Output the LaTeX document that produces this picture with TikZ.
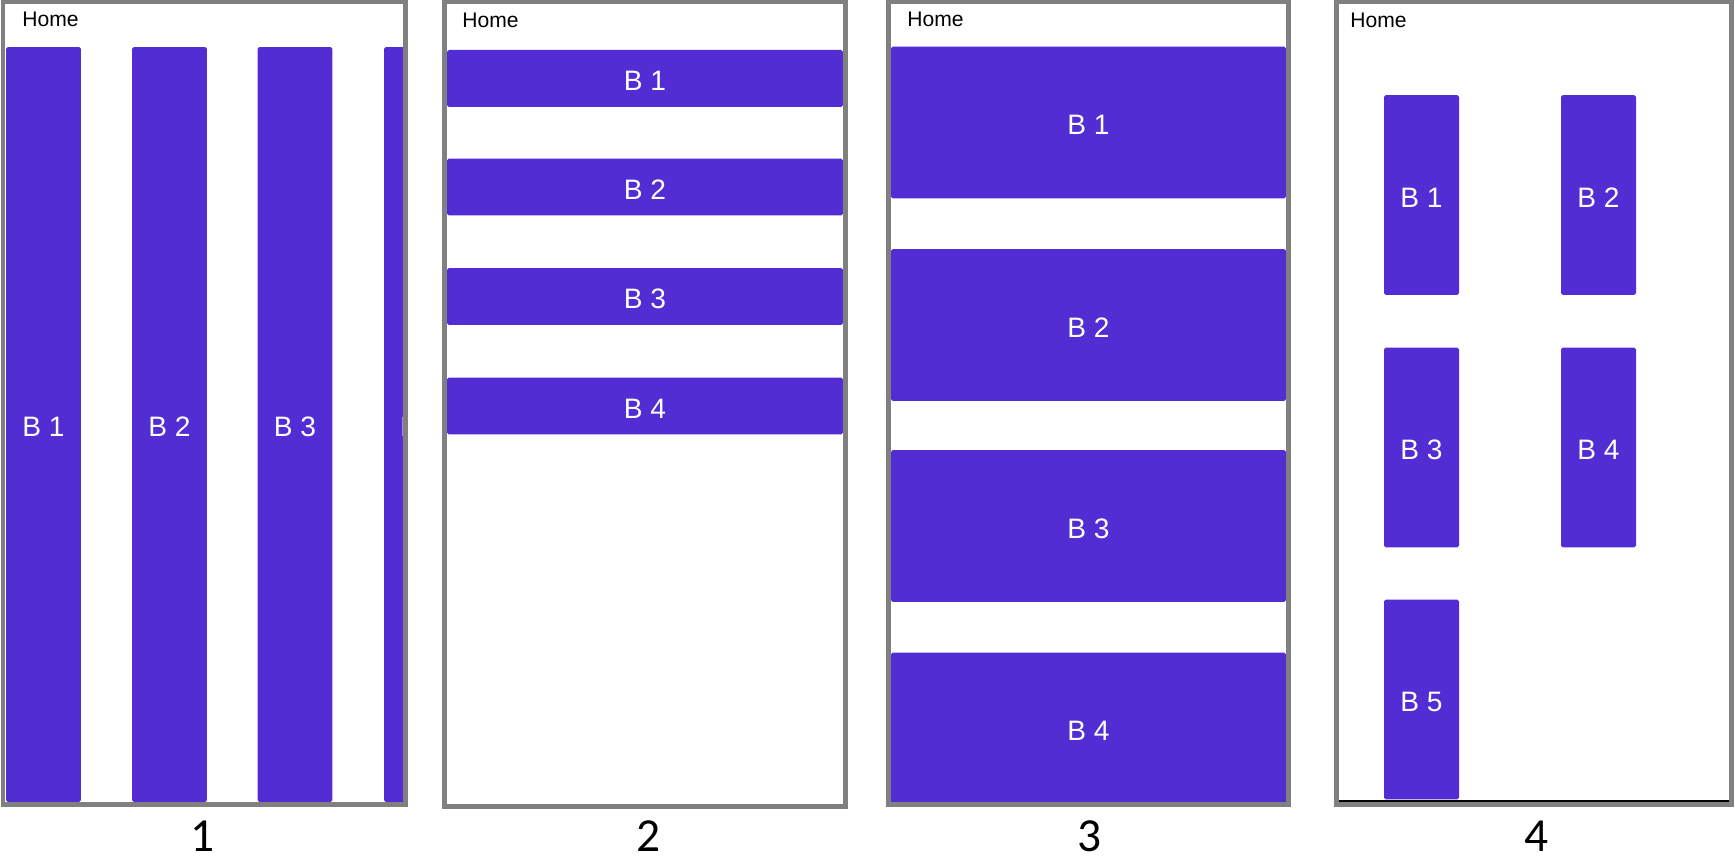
\documentclass[tikz,border=0pt]{standalone}
\usepackage{fontspec}
\setmainfont{Liberation Sans}
\newfontfamily\numfont{Carlito}
\usepackage{tikz}
\definecolor{btnpurple}{HTML}{512DD3}
\definecolor{framegray}{HTML}{808080}

\begin{document}
\begin{tikzpicture}[x=0.02cm,y=-0.02cm,
  frame/.style={draw=framegray,line width=0.1cm},
  btn/.style={fill=btnpurple,rounded corners=1pt,text=white,font=\fontsize{16}{18}\selectfont,inner sep=0pt,text height=14pt,text depth=0pt},
  home/.style={anchor=base west,inner sep=0pt,font=\fontsize{12}{14}\selectfont},
  num/.style={font=\numfont\fontsize{27}{30}\selectfont}]
  \useasboundingbox (0,0) rectangle (1735,864);
  \begin{scope}
    \clip (6,0) rectangle (403,864);
    \foreach \x/\i in {43.5/1,169.5/2,295/3,421.5/4}
      \node[btn,minimum width=1.5cm,minimum height=15.1cm] (a\i) at (\x,424.5) {B \i};
  \end{scope}
  \foreach \y/\i in {78.5/1,187/2,296.5/3,406/4}
    \node[btn,minimum width=7.92cm,minimum height=1.14cm] (b\i) at (645,\y) {B \i};
  \foreach \y/\i in {122.5/1,325/2,526/3,728.5/4}
    \node[btn,minimum width=7.9cm,minimum height=3.04cm] (c\i) at (1088.5,\y) {B \i};
  \foreach \x/\y/\i in {1421.5/195/1,1598.5/195/2,1421.5/447.5/3,1598.5/447.5/4,1421.5/699.5/5}
    \node[btn,minimum width=1.5cm,minimum height=4cm] (d\i) at (\x,\y) {B \i};
  \draw[frame] (3,1.5) rectangle (405.5,804);
  \draw[frame] (444.5,2) rectangle (845.5,806);
  \draw[frame] (888.5,1.5) rectangle (1288.5,804);
  \draw[frame] (1336.5,2) rectangle (1731.5,804.5);
  \draw[line width=0.75pt] (1339,801) -- (1729,801);
  \foreach \x/\y/\i in {22/27/1,462/28/2,907/27/3,1350/28/4}
    \node[home] (h\i) at (\x,\y) {Home};
  \foreach \x/\i in {203/1,649/2,1090/3,1537/4}
    \node[num] (n\i) at (\x,836) {\i};
\end{tikzpicture}
\end{document}
